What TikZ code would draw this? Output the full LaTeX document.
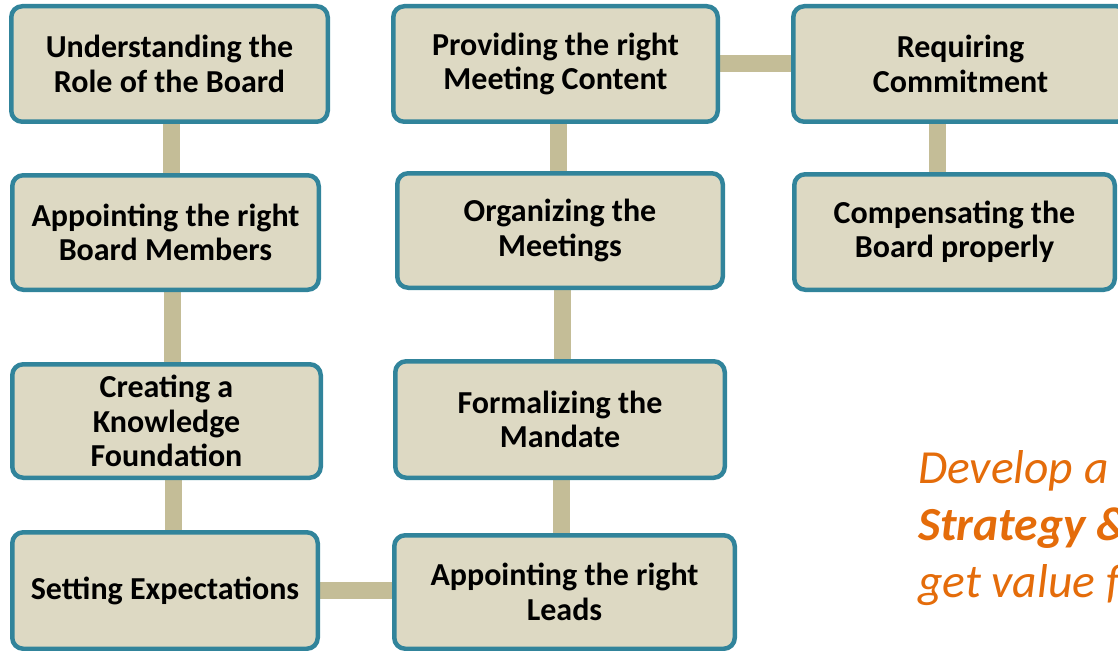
\documentclass[tikz,border=0pt]{standalone}
\usepackage{fontspec}
\setmainfont{Carlito}
\usetikzlibrary{backgrounds,calc}
\definecolor{boxfill}{HTML}{DDD9C3}
\definecolor{boxborder}{HTML}{31849B}
\definecolor{linkcol}{HTML}{C4BD97}
\definecolor{accent}{HTML}{E46C0A}
\begin{document}
\begin{tikzpicture}[x=1pt,y=-1pt,
  stage/.style={draw=boxborder, fill=boxfill, line width=4.5pt, rounded corners=11pt,
    align=center, inner sep=0pt, font=\bfseries\fontsize{32}{34.5}\selectfont},
  link/.style={draw=linkcol, line width=17pt},
  note/.style={text=accent, inner sep=0pt, anchor=base west, font=\itshape\fontsize{47.5}{57}\selectfont}]
\useasboundingbox (0,0) rectangle (1118,650);

% left column
\node[stage, minimum width=316.5pt, minimum height=115.5pt] (b1) at (169.5,64) {Understanding the\\Role of the Board};
\node[stage, minimum width=306.5pt, minimum height=114.5pt] (b2) at (165.5,232.5) {Appointing the right\\Board Members};
\node[stage, minimum width=308.5pt, minimum height=113.5pt] (b3) at (166.5,421) {Creating a\\Knowledge\\Foundation};
\node[stage, minimum width=305.5pt, minimum height=116.5pt] (b4) at (165,590.5) {Setting Expectations};

% middle column
\node[stage, minimum width=324.5pt, minimum height=115.5pt] (b5) at (555.5,64) {Providing the right\\Meeting Content};
\node[stage, minimum width=325.5pt, minimum height=114.5pt] (b6) at (560,230.5) {Organizing the\\Meetings};
\node[stage, minimum width=329.5pt, minimum height=116.5pt] (b7) at (560,419.5) {Formalizing the\\Mandate};
\node[stage, minimum width=340.5pt, minimum height=113.5pt] (b8) at (564.5,592) {Appointing the right\\Leads};

% right column
\node[stage, minimum width=334.5pt, minimum height=115.5pt] (b9) at (960.5,64) {Requiring\\Commitment};
\node[stage, minimum width=320.5pt, minimum height=115.5pt] (b10) at (954.5,232) {Compensating the\\Board properly};

% connecting bars
\begin{scope}[on background layer]
  \draw[link] ($(b1.center)+(1.5,0)$) -- ($(b1.center |- b2.center)+(1.5,0)$);
  \draw[link] ($(b2.center)+(6.5,0)$) -- ($(b2.center |- b3.center)+(6.5,0)$);
  \draw[link] ($(b3.center)+(6.5,0)$) -- ($(b3.center |- b4.center)+(6.5,0)$);
  \draw[link] (b4.center) -- (b4.center -| b8.center);
  \draw[link] ($(b8.center)+(-3.5,0)$) -- ($(b8.center |- b7.center)+(-3.5,0)$);
  \draw[link] ($(b7.center)+(2,0)$) -- ($(b7.center |- b6.center)+(2,0)$);
  \draw[link] ($(b6.center)+(-1.5,0)$) -- ($(b6.center |- b5.center)+(-1.5,0)$);
  \draw[link] (b5.center) -- (b5.center -| b9.center);
  \draw[link] ($(b9.center)+(-23.5,0)$) -- ($(b9.center |- b10.center)+(-23.5,0)$);
\end{scope}

% closing statement
\node[note] (t1) at (918,483) {Develop a};
\node[note, font=\bfseries\itshape\fontsize{47.5}{57}\selectfont] (t2) at (918,540) {Strategy \&};
\node[note] (t3) at (918,597) {get value f};
\end{tikzpicture}
\end{document}
